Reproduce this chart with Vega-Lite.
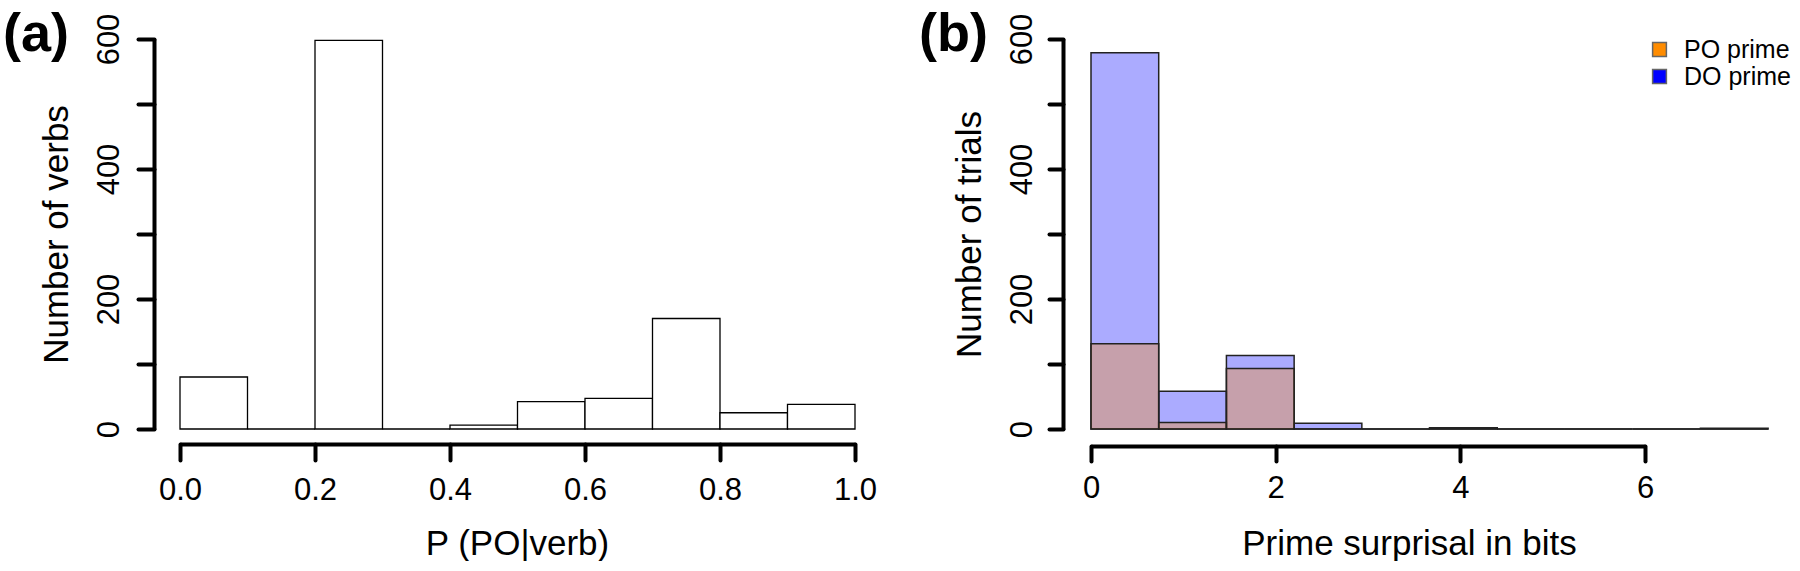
{
  "$schema": "https://vega.github.io/schema/vega-lite/v6.json",
  "background": "white",
  "padding": {"left": 3, "top": 8, "right": 0, "bottom": 0},
  "spacing": 42,
  "resolve": {"legend": {"fill": "independent"}, "scale": {"fill": "independent"}},
  "config": {
    "view": {"stroke": null},
    "font": "Liberation Sans",
    "axis": {
      "grid": false,
      "domainColor": "black",
      "tickColor": "black",
      "labelColor": "black",
      "titleColor": "black",
      "titleFontWeight": "normal",
      "domainWidth": 4,
      "tickWidth": 4,
      "labelFont": "Liberation Sans",
      "titleFont": "Liberation Sans",
      "labelOverlap": false,
      "labelFlush": false
    }
  },
  "hconcat": [
    {
      "width": 675,
      "height": 390,
      "title": {"text": "(a)", "anchor": "start", "frame": "bounds", "orient": "top", "offset": -49, "baseline": "alphabetic", "fontSize": 54, "fontWeight": "bold", "font": "Liberation Sans", "color": "black", "dx": -36, "dy": 43},
      "data": {"values": [
        {"lo": 0.0, "hi": 0.1, "n": 80},
        {"lo": 0.1, "hi": 0.2, "n": 0},
        {"lo": 0.2, "hi": 0.3, "n": 598},
        {"lo": 0.3, "hi": 0.4, "n": 0},
        {"lo": 0.4, "hi": 0.5, "n": 6},
        {"lo": 0.5, "hi": 0.6, "n": 42},
        {"lo": 0.6, "hi": 0.7, "n": 47},
        {"lo": 0.7, "hi": 0.8, "n": 170},
        {"lo": 0.8, "hi": 0.9, "n": 25},
        {"lo": 0.9, "hi": 1.0, "n": 38}
      ]},
      "mark": {"type": "bar", "fill": "white", "stroke": "black", "strokeWidth": 1.3},
      "encoding": {
        "x": {
          "field": "lo", "type": "quantitative",
          "scale": {"domain": [0, 1], "nice": false, "zero": false},
          "axis": {
            "values": [0, 0.2, 0.4, 0.6, 0.8, 1.0], "format": ".1f",
            "offset": 15, "tickSize": 16, "tickCap": "round",
            "labelFontSize": 31, "labelBaseline": "alphabetic", "labelPadding": 39,
            "title": "P (PO|verb)", "titleFontSize": 35, "titleBaseline": "alphabetic",
            "titleAlign": "center", "titleX": 337, "titleY": 110
          }
        },
        "x2": {"field": "hi"},
        "y": {
          "field": "n", "type": "quantitative",
          "scale": {"domain": [0, 600], "nice": false},
          "axis": {
            "values": [0, 100, 200, 300, 400, 500, 600],
            "labelExpr": "datum.value % 200 == 0 ? datum.label : ''",
            "offset": 26, "tickSize": 16, "tickCap": "round",
            "labelFontSize": 31, "labelAngle": -90, "labelAlign": "center", "labelBaseline": "alphabetic", "labelPadding": 20,
            "title": "Number of verbs", "titleFontSize": 35, "titleAngle": -90, "titleBaseline": "alphabetic",
            "titleAlign": "center", "titleX": -87, "titleY": 195
          }
        },
        "y2": {"datum": 0}
      }
    },
    {
      "width": 554,
      "height": 390,
      "title": {"text": "(b)", "anchor": "start", "frame": "bounds", "orient": "top", "offset": -49, "baseline": "alphabetic", "fontSize": 54, "fontWeight": "bold", "font": "Liberation Sans", "color": "black", "dx": -33, "dy": 43},
      "data": {"values": [
        {"prime": "DO prime", "lo": 0.0, "hi": 0.7333, "n": 579},
        {"prime": "DO prime", "lo": 0.7333, "hi": 1.4667, "n": 58},
        {"prime": "DO prime", "lo": 1.4667, "hi": 2.2, "n": 113},
        {"prime": "DO prime", "lo": 2.2, "hi": 2.9333, "n": 9},
        {"prime": "DO prime", "lo": 2.9333, "hi": 3.6667, "n": 0},
        {"prime": "DO prime", "lo": 3.6667, "hi": 4.4, "n": 2},
        {"prime": "DO prime", "lo": 4.4, "hi": 5.1333, "n": 0},
        {"prime": "DO prime", "lo": 5.1333, "hi": 5.8667, "n": 0},
        {"prime": "DO prime", "lo": 5.8667, "hi": 6.6, "n": 0},
        {"prime": "DO prime", "lo": 6.6, "hi": 7.3333, "n": 1},
        {"prime": "PO prime", "lo": 0.0, "hi": 0.7333, "n": 131},
        {"prime": "PO prime", "lo": 0.7333, "hi": 1.4667, "n": 10},
        {"prime": "PO prime", "lo": 1.4667, "hi": 2.2, "n": 93},
        {"prime": "PO prime", "lo": 2.2, "hi": 2.9333, "n": 0},
        {"prime": "PO prime", "lo": 2.9333, "hi": 3.6667, "n": 0},
        {"prime": "PO prime", "lo": 3.6667, "hi": 4.4, "n": 1},
        {"prime": "PO prime", "lo": 4.4, "hi": 5.1333, "n": 0},
        {"prime": "PO prime", "lo": 5.1333, "hi": 5.8667, "n": 0},
        {"prime": "PO prime", "lo": 5.8667, "hi": 6.6, "n": 0},
        {"prime": "PO prime", "lo": 6.6, "hi": 7.3333, "n": 0}
      ]},
      "mark": {"type": "bar", "fillOpacity": 0.33, "stroke": "#222222", "strokeWidth": 1.5},
      "encoding": {
        "x": {
          "field": "lo", "type": "quantitative",
          "scale": {"domain": [0, 6], "nice": false, "zero": false},
          "axis": {
            "values": [0, 2, 4, 6], "format": "d",
            "offset": 17, "tickSize": 15, "tickCap": "round",
            "labelFontSize": 31, "labelBaseline": "alphabetic", "labelPadding": 36,
            "title": "Prime surprisal in bits", "titleFontSize": 35, "titleBaseline": "alphabetic",
            "titleAlign": "center", "titleX": 318, "titleY": 108
          }
        },
        "x2": {"field": "hi"},
        "y": {
          "field": "n", "type": "quantitative", "stack": null,
          "scale": {"domain": [0, 600], "nice": false},
          "axis": {
            "values": [0, 100, 200, 300, 400, 500, 600],
            "labelExpr": "datum.value % 200 == 0 ? datum.label : ''",
            "offset": 28, "tickSize": 14, "tickCap": "round",
            "labelFontSize": 31, "labelAngle": -90, "labelAlign": "center", "labelBaseline": "alphabetic", "labelPadding": 18,
            "title": "Number of trials", "titleFontSize": 35, "titleAngle": -90, "titleBaseline": "alphabetic",
            "titleAlign": "center", "titleX": -83, "titleY": 195
          }
        },
        "y2": {"datum": 0},
        "fill": {
          "field": "prime", "type": "nominal",
          "scale": {"domain": ["PO prime", "DO prime"], "range": ["#FF8C00", "#0000FF"]},
          "legend": {
            "title": null, "orient": "none", "legendX": 556, "legendY": -2,
            "symbolType": "square", "symbolSize": 190, "symbolOpacity": 1,
            "symbolStrokeColor": "#666666", "symbolStrokeWidth": 1.5,
            "labelFontSize": 25, "labelColor": "black", "labelFont": "Liberation Sans",
            "labelOffset": 12, "rowPadding": 1, "padding": 0
          }
        }
      }
    }
  ]
}
